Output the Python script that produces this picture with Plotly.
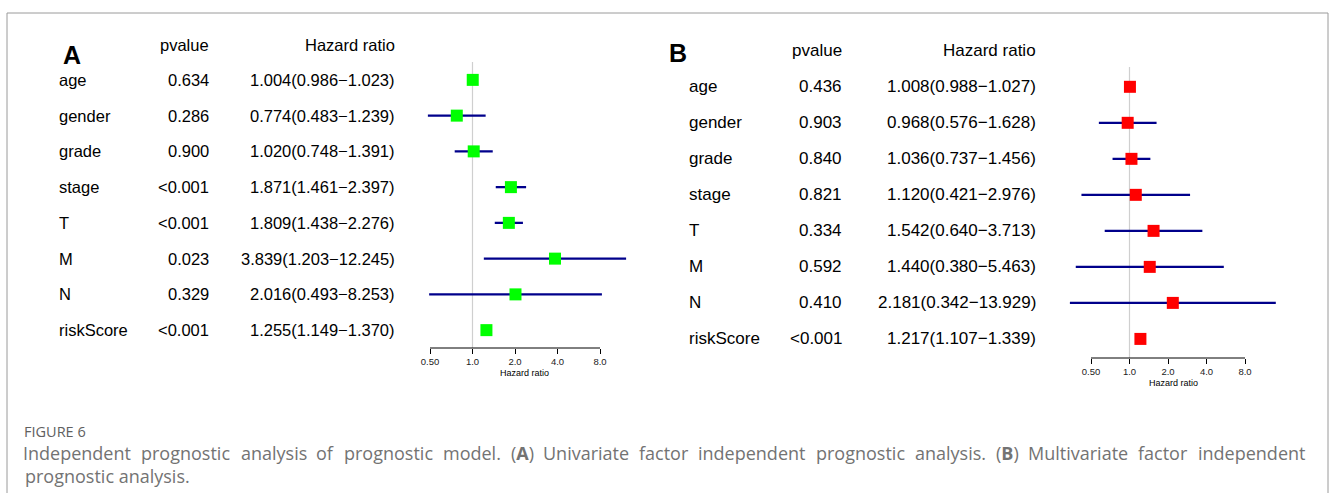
import math
import plotly.graph_objects as go

W, H = 1330, 493

# ---------------- data ----------------
variables = ["age", "gender", "grade", "stage", "T", "M", "N", "riskScore"]

uni_p = ["0.634", "0.286", "0.900", "<0.001", "<0.001", "0.023", "0.329", "<0.001"]
uni_hr = [1.004, 0.774, 1.020, 1.871, 1.809, 3.839, 2.016, 1.255]
uni_lo = [0.986, 0.483, 0.748, 1.461, 1.438, 1.203, 0.493, 1.149]
uni_hi = [1.023, 1.239, 1.391, 2.397, 2.276, 12.245, 8.253, 1.370]

multi_p = ["0.436", "0.903", "0.840", "0.821", "0.334", "0.592", "0.410", "<0.001"]
multi_hr = [1.008, 0.968, 1.036, 1.120, 1.542, 1.440, 2.181, 1.217]
multi_lo = [0.988, 0.576, 0.737, 0.421, 0.640, 0.380, 0.342, 1.107]
multi_hi = [1.027, 1.628, 1.456, 2.976, 3.713, 5.463, 13.929, 1.339]

tick_vals = [0.5, 1, 2, 4, 8]
tick_text = ["0.50", "1.0", "2.0", "4.0", "8.0"]

caption_head = "FIGURE 6"
caption_line1 = ["Independent", "prognostic", "analysis", "of", "prognostic", "model.",
                 "(<b>A</b>)", "Univariate", "factor", "independent", "prognostic",
                 "analysis.", "(<b>B</b>)", "Multivariate", "factor", "independent"]
caption_line2 = "prognostic analysis."

# ---------------- helpers ----------------
def px_x(p):
    return p / W

def px_y(p):
    return 1 - p / H

def log_range(dom_l, dom_r, one_px, per_doubling):
    lo = (dom_l - one_px) / per_doubling * math.log10(2)
    hi = (dom_r - one_px) / per_doubling * math.log10(2)
    return [lo, hi]

# approximate Open Sans advance widths (units of 1/2048 em) for justification
OS_W = {"a": 1139, "b": 1255, "c": 975, "d": 1255, "e": 1149, "f": 694, "g": 1122,
        "h": 1257, "i": 518, "l": 518, "m": 1905, "n": 1257, "o": 1237, "p": 1255,
        "r": 836, "s": 977, "t": 723, "u": 1257, "v": 1026, "y": 1028, ".": 545,
        "(": 608, ")": 608, "I": 621, "U": 1458, "M": 1823, "A": 1340, "B": 1360}

def text_width(s, size):
    s = s.replace("<b>", "").replace("</b>", "")
    return sum(OS_W.get(c, 1100) for c in s) / 2048 * size

TXT = "Liberation Sans, Arial, sans-serif"
CAP = "Open Sans, sans-serif"
NAVY = "#00008B"

fig = go.Figure()
annotations = []
shapes = []

panels = [
    dict(letter="A", p=uni_p, hr=uni_hr, lo=uni_lo, hi=uni_hi, color="#00FF00",
         xa="x", ya="y", dom=(420, 640), one=472.5, dbl=42.5,
         ydom=(62, 348), yr=[7.5, -0.5], fs=16.5,
         lab_x=57, p_x=211, hr_x=397, head_y=45, let_x=61, let_y=55,
         title_x=524, title_y=373),
    dict(letter="B", p=multi_p, hr=multi_hr, lo=multi_lo, hi=multi_hi, color="#FF0000",
         xa="x2", ya="y2", dom=(1060, 1285), one=1129.5, dbl=38.5,
         ydom=(67, 358), yr=[7.53, -0.55], fs=17,
         lab_x=687, p_x=844, hr_x=1038, head_y=51, let_x=667, let_y=53,
         title_x=1173, title_y=383),
]

for k, P in enumerate(panels):
    idx = list(range(len(variables)))
    fs = P["fs"]
    lx, ly = [], []
    for i in idx:
        lx += [P["lo"][i], P["hi"][i], None]
        ly += [i, i, None]
    fig.add_trace(go.Scatter(x=lx, y=ly, mode="lines", xaxis=P["xa"], yaxis=P["ya"],
                             line=dict(color=NAVY, width=2.3), hoverinfo="skip",
                             showlegend=False))
    fig.add_trace(go.Scatter(x=P["hr"], y=idx, mode="markers", xaxis=P["xa"], yaxis=P["ya"],
                             marker=dict(symbol="square", size=12, color=P["color"],
                                         line=dict(width=0)),
                             showlegend=False))
    yref = P["ya"]
    for i, v in enumerate(variables):
        annotations.append(dict(x=px_x(P["lab_x"]), y=i, xref="paper", yref=yref,
                                text=v, showarrow=False, xanchor="left", yanchor="middle",
                                font=dict(family=TXT, size=fs, color="#000")))
        annotations.append(dict(x=px_x(P["p_x"]), y=i, xref="paper", yref=yref,
                                text=P["p"][i], showarrow=False, xanchor="right",
                                yanchor="middle", font=dict(family=TXT, size=fs, color="#000")))
        hrtxt = f"{P['hr'][i]:.3f}({P['lo'][i]:.3f}\u2212{P['hi'][i]:.3f})"
        annotations.append(dict(x=px_x(P["hr_x"]), y=i, xref="paper", yref=yref,
                                text=hrtxt, showarrow=False, xanchor="right",
                                yanchor="middle", font=dict(family=TXT, size=fs, color="#000")))
    annotations.append(dict(x=px_x(P["p_x"]), y=px_y(P["head_y"]), xref="paper", yref="paper",
                            text="pvalue", showarrow=False, xanchor="right", yanchor="middle",
                            font=dict(family=TXT, size=fs, color="#000")))
    annotations.append(dict(x=px_x(P["hr_x"]), y=px_y(P["head_y"]), xref="paper", yref="paper",
                            text="Hazard ratio", showarrow=False, xanchor="right",
                            yanchor="middle", font=dict(family=TXT, size=fs, color="#000")))
    annotations.append(dict(x=px_x(P["let_x"]), y=px_y(P["let_y"]), xref="paper", yref="paper",
                            text="<b>" + P["letter"] + "</b>", showarrow=False, xanchor="left",
                            yanchor="middle", font=dict(family=TXT, size=25, color="#000")))
    annotations.append(dict(x=px_x(P["title_x"]), y=px_y(P["title_y"]), xref="paper",
                            yref="paper", text="Hazard ratio", showarrow=False,
                            xanchor="center", yanchor="middle",
                            font=dict(family=TXT, size=9, color="#000")))
    # reference line at HR = 1
    shapes.append(dict(type="line", xref=P["xa"], yref=P["ya"] + " domain", x0=1, x1=1,
                       y0=0, y1=1, line=dict(color="#cfcfcf", width=1.2), layer="below"))
    # axis line between first and last tick
    shapes.append(dict(type="line", xref=P["xa"], yref=P["ya"] + " domain",
                       x0=tick_vals[0], x1=tick_vals[-1], y0=0, y1=0,
                       line=dict(color="#000", width=1)))

    ax = dict(type="log", domain=[px_x(P["dom"][0]), px_x(P["dom"][1])],
              range=log_range(P["dom"][0], P["dom"][1], P["one"], P["dbl"]),
              tickvals=tick_vals, ticktext=tick_text, ticks="outside", ticklen=5,
              tickcolor="#000", tickwidth=1, showline=False, showgrid=False,
              zeroline=False, tickfont=dict(family=TXT, size=9.5, color="#222"),
              anchor=P["ya"], fixedrange=True)
    ay = dict(domain=[px_y(P["ydom"][1]), px_y(P["ydom"][0])], range=P["yr"],
              visible=False, showgrid=False, zeroline=False, anchor=P["xa"], fixedrange=True)
    if k == 0:
        fig.update_layout(xaxis=ax, yaxis=ay)
    else:
        fig.update_layout(xaxis2=ax, yaxis2=ay)

# ---------------- frame ----------------
FR = "#9a9a9a"
shapes.append(dict(type="line", xref="paper", yref="paper", x0=px_x(7), x1=px_x(1328),
                   y0=px_y(13), y1=px_y(13), line=dict(color=FR, width=1)))
shapes.append(dict(type="line", xref="paper", yref="paper", x0=px_x(7), x1=px_x(7),
                   y0=px_y(13), y1=0, line=dict(color=FR, width=1)))
shapes.append(dict(type="line", xref="paper", yref="paper", x0=px_x(1328), x1=px_x(1328),
                   y0=px_y(13), y1=0, line=dict(color=FR, width=1)))

# ---------------- caption (justified first line) ----------------
CAPC = "#737373"
CS = 18
annotations.append(dict(x=px_x(22), y=px_y(431), xref="paper", yref="paper",
                        text=caption_head, showarrow=False, xanchor="left", yanchor="middle",
                        font=dict(family=CAP, size=14.5, color="#606060")))
left, right = 23, 1305
widths = [text_width(w, CS) for w in caption_line1]
gap = (right - left - sum(widths)) / (len(widths) - 1)
xcur = left
for wtxt, wd in zip(caption_line1, widths):
    annotations.append(dict(x=px_x(xcur + wd / 2), y=px_y(453), xref="paper", yref="paper",
                            text=wtxt, showarrow=False, xanchor="center", yanchor="middle",
                            font=dict(family=CAP, size=CS, color=CAPC)))
    xcur += wd + gap
annotations.append(dict(x=px_x(23), y=px_y(476), xref="paper", yref="paper",
                        text=caption_line2, showarrow=False, xanchor="left",
                        yanchor="middle", font=dict(family=CAP, size=CS, color=CAPC)))

fig.update_layout(width=W, height=H, margin=dict(l=0, r=0, t=0, b=0),
                  paper_bgcolor="white", plot_bgcolor="white",
                  annotations=annotations, shapes=shapes, showlegend=False)

fig.write_html("out.html")
